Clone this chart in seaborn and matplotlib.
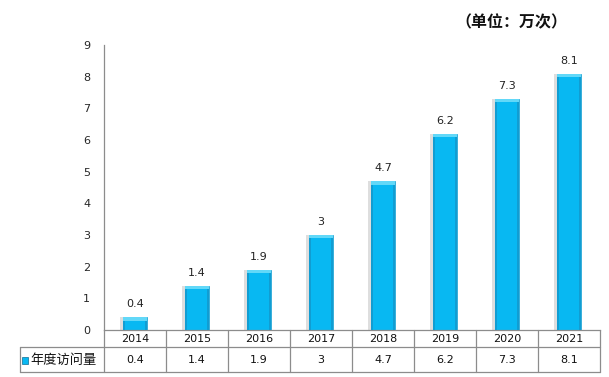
import matplotlib
matplotlib.use('Agg')
import matplotlib.pyplot as plt
import matplotlib.transforms as mtransforms
import seaborn as sns
import pandas as pd

# dados
anos = ['2014', '2015', '2016', '2017', '2018', '2019', '2020', '2021']
visitas = [0.4, 1.4, 1.9, 3, 4.7, 6.2, 7.3, 8.1]
rotulos = ['0.4', '1.4', '1.9', '3', '4.7', '6.2', '7.3', '8.1']
serie = '年度访问量'
unidade = '（单位：万次）'

sns.set_theme(style='white')
plt.rcParams['font.family'] = ['Noto Sans CJK SC', 'DejaVu Sans']

df = pd.DataFrame({'ano': anos, 'valor': visitas})

W, H = 609, 377
fig = plt.figure(figsize=(W / 100, H / 100), dpi=100)
ax = fig.add_axes([104 / W, 1 - 330 / H, (600 - 104) / W, (330 - 45) / H])

cor = '#08B8F2'
larg = 0.4
# sombra suave à esquerda
for i, v in enumerate(visitas):
    ax.bar(i - 0.035, v, width=larg, color='#C8C8C8', alpha=0.6, edgecolor='none', zorder=1)

sns.barplot(data=df, x='ano', y='valor', color=cor, width=larg,
            edgecolor='#1C9ECF', linewidth=0.5, saturation=1, ax=ax, zorder=2)

# efeito bisel: bordas laterais e topo mais claro
b = 0.045
for i, v in enumerate(visitas):
    ax.bar(i - larg / 2, v, width=b, align='edge', color='#119DD2', edgecolor='none', zorder=3)
    ax.bar(i + larg / 2, v, width=-b, align='edge', color='#119DD2', edgecolor='none', zorder=3)
    ax.bar(i, 0.11, bottom=v - 0.11, width=larg, color='#62D8F8', edgecolor='none', zorder=4)

for i, (v, t) in enumerate(zip(visitas, rotulos)):
    ax.text(i, v + 0.25, t, ha='center', va='bottom', fontsize=8,
            family='DejaVu Sans', color='#222222')

ax.set_xlim(-0.5, len(anos) - 0.5)
ax.set_ylim(0, 9)
ax.set_yticks(range(0, 10))
ax.set_yticklabels([str(k) for k in range(0, 10)], family='DejaVu Sans', fontsize=8)
ax.tick_params(axis='y', length=0, pad=10)
ax.set_xticks([])
ax.set_xlabel('')
ax.set_ylabel('')
for s in ['top', 'right']:
    ax.spines[s].set_visible(False)
for s in ['left', 'bottom']:
    ax.spines[s].set_color('#8C8C8C')
    ax.spines[s].set_linewidth(0.9)

# tabela de dados abaixo do gráfico
tr = mtransforms.blended_transform_factory(ax.transData, fig.transFigure)
def fy(py):
    return 1 - py / H
lc = '#8C8C8C'
x0, x1 = -0.5, len(anos) - 0.5
xl = x0 - (104 - 20) / ((600 - 104) / len(anos))
for k in range(len(anos) + 1):
    ax.plot([x0 + k, x0 + k], [fy(330), fy(372)], color=lc, lw=0.9,
            transform=tr, clip_on=False)
ax.plot([xl, xl], [fy(347), fy(372)], color=lc, lw=0.9, transform=tr, clip_on=False)
ax.plot([xl, x1], [fy(347), fy(347)], color=lc, lw=0.9, transform=tr, clip_on=False)
ax.plot([xl, x1], [fy(372), fy(372)], color=lc, lw=0.9, transform=tr, clip_on=False)
for i, (a, t) in enumerate(zip(anos, rotulos)):
    ax.text(i, fy(339), a, ha='center', va='center', fontsize=8,
            family='DejaVu Sans', transform=tr, color='#111111')
    ax.text(i, fy(360), t, ha='center', va='center', fontsize=8,
            family='DejaVu Sans', transform=tr, color='#111111')
fig.patches.append(plt.Rectangle((22 / W, fy(364)), 6 / W, 7 / H, transform=fig.transFigure,
                                 facecolor=cor, edgecolor='#0B6E96', lw=0.5))
fig.text(30 / W, fy(360), serie, ha='left', va='center', fontsize=9.5, color='#111111')

fig.text(511 / W, fy(22), unidade, ha='center', va='center', fontsize=11.5,
         fontweight='bold', color='#111111')

fig.savefig('out.png', dpi=100)
